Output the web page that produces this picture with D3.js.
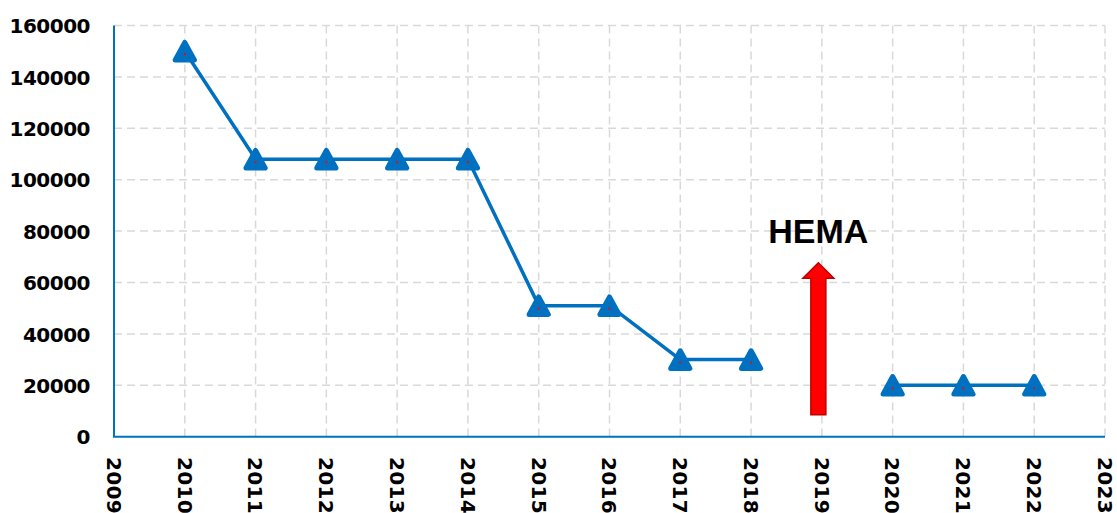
<!DOCTYPE html>
<html>
<head>
<meta charset="utf-8">
<script src="https://cdn.jsdelivr.net/npm/d3@7"></script>
<style>
  html, body { margin: 0; padding: 0; background: #fff; }
  svg { display: block; }
</style>
</head>
<body>
<script>
// ---- data ----
const years = [2010, 2011, 2012, 2013, 2014, 2015, 2016, 2017, 2018, 2019, 2020, 2021, 2022];
const values = [150000, 108000, 108000, 108000, 108000, 51000, 51000, 30000, 30000, null, 20000, 20000, 20000];
const yTicks = [0, 20000, 40000, 60000, 80000, 100000, 120000, 140000, 160000];
const xTicks = [2009, 2010, 2011, 2012, 2013, 2014, 2015, 2016, 2017, 2018, 2019, 2020, 2021, 2022, 2023];
const annotationLabel = "HEMA";
const annotationYear = 2019;
const arrowFrom = 8500;
const arrowTo = 67700;
const labelValue = 75400;

(function () {
// ---- layout ----
const W = 1117, H = 513;
const mLeft = 114, mRight = 1105, mTop = 25.5, mBottom = 436.7;
const blue = "#0070C0";
const tickFont = "'DejaVu Sans', sans-serif";

const svg = d3.select("body").append("svg").attr("width", W).attr("height", H);

const x = d3.scaleLinear().domain([2009, 2023]).range([mLeft, mRight]);
const y = d3.scaleLinear().domain([0, 160000]).range([mBottom, mTop]);

// grid
const grid = svg.append("g").attr("stroke", "#d9d9d9").attr("stroke-width", 1.5)
  .attr("stroke-dasharray", "8,5").attr("fill", "none");
grid.selectAll("line.h").data(yTicks.filter(d => d > 0)).join("line").attr("class", "h")
  .attr("x1", mLeft).attr("x2", mRight)
  .attr("y1", d => y(d)).attr("y2", d => y(d));
grid.selectAll("line.v").data(xTicks.filter(d => d > 2009)).join("line").attr("class", "v")
  .attr("y1", mTop).attr("y2", mBottom)
  .attr("x1", d => x(d)).attr("x2", d => x(d));

// axes lines
svg.append("line").attr("x1", mLeft).attr("x2", mLeft).attr("y1", mTop).attr("y2", mBottom)
  .attr("stroke", blue).attr("stroke-width", 2);
svg.append("line").attr("x1", mLeft - 1).attr("x2", mRight).attr("y1", mBottom).attr("y2", mBottom)
  .attr("stroke", blue).attr("stroke-width", 2);

// y tick labels
const yAxis = d3.axisLeft(y).tickValues(yTicks).tickSize(0).tickPadding(24).tickFormat(d3.format("d"));
const gy = svg.append("g").attr("transform", `translate(${mLeft},0)`).call(yAxis);
gy.select(".domain").remove();
gy.selectAll("text")
  .attr("font-family", tickFont)
  .attr("font-weight", "bold").attr("font-size", 20)
  .attr("letter-spacing", "-0.5px")
  .attr("fill", "#000").attr("dy", "0.36em");

// x tick labels (rotated)
const gx = svg.append("g");
gx.selectAll("text").data(xTicks).join("text")
  .attr("transform", d => `translate(${x(d)},457) rotate(90)`)
  .attr("dy", "0.36em")
  .attr("text-anchor", "start")
  .attr("font-family", tickFont)
  .attr("font-weight", "bold").attr("font-size", 20)
  .attr("letter-spacing", "0.3px")
  .attr("fill", "#000")
  .text(d => d);

// line
const pts = years.map((yr, i) => ({ yr, v: values[i] }));
const line = d3.line().defined(d => d.v != null).x(d => x(d.yr)).y(d => y(d.v));
svg.append("path").datum(pts).attr("d", line)
  .attr("fill", "none").attr("stroke", blue).attr("stroke-width", 3.5)
  .attr("stroke-linejoin", "round");

// markers (rounded triangles)
const valid = pts.filter(d => d.v != null);
const tri = "M0,-8.8 L9.6,8.8 L-9.6,8.8 Z";
const mk = svg.append("g");
mk.selectAll("path").data(valid).join("path")
  .attr("transform", d => `translate(${x(d.yr)},${y(d.v)})`)
  .attr("d", tri)
  .attr("fill", blue).attr("stroke", blue).attr("stroke-width", 5)
  .attr("stroke-linejoin", "round");
mk.selectAll("circle").data(valid).join("circle")
  .attr("cx", d => x(d.yr)).attr("cy", d => y(d.v) + 3)
  .attr("r", 1.1).attr("fill", "#ff0000");

// arrow annotation
const ax = x(annotationYear) - 3.5;
const yTip = y(arrowTo), yBase = y(arrowFrom);
const headH = 15.5, headW = 15.5, shaftW = 7.5;
const arrowPath = [
  [ax - shaftW, yBase], [ax - shaftW, yTip + headH], [ax - headW, yTip + headH],
  [ax, yTip], [ax + headW, yTip + headH], [ax + shaftW, yTip + headH], [ax + shaftW, yBase]
];
svg.append("path").attr("d", d3.line()(arrowPath) + "Z")
  .attr("fill", "#ff0000").attr("stroke", "#c00000").attr("stroke-width", 1.5)
  .attr("stroke-linejoin", "miter");

svg.append("text")
  .attr("x", ax).attr("y", y(labelValue))
  .attr("text-anchor", "middle")
  .attr("font-family", "'Liberation Sans', Arial, sans-serif")
  .attr("font-weight", "bold").attr("font-size", 34)
  .attr("fill", "#000")
  .text(annotationLabel);
})();
</script>
</body>
</html>
